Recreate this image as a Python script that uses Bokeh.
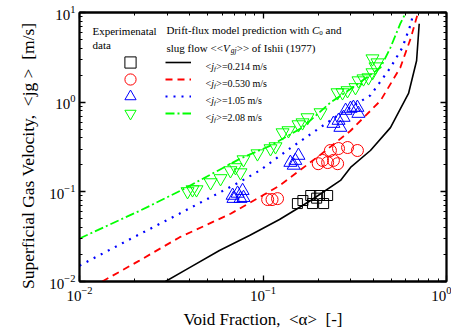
from bokeh.plotting import figure
from bokeh.models import Label, Legend, LegendItem, LogAxis, FixedTicker, CustomJSTickFormatter
from bokeh.embed import file_html
from bokeh.resources import INLINE

FONT = "Liberation Serif"

# ---------------- data ----------------
x_major = [0.01, 0.1, 1.0]
y_major = [0.01, 0.1, 1.0, 10.0]
x_minor = [m * d for d in (0.01, 0.1) for m in range(2, 10)]
y_minor = [m * d for d in (0.01, 0.1, 1.0) for m in range(2, 10)]

# experimental data
sq_x = [0.154, 0.165, 0.182, 0.186, 0.203, 0.214, 0.225, 0.196]
sq_y = [0.074, 0.080, 0.091, 0.074, 0.091, 0.074, 0.091, 0.085]

ci_x = [0.106, 0.112, 0.120, 0.200, 0.211, 0.225, 0.242, 0.255, 0.233, 0.258, 0.289, 0.327]
ci_y = [0.082, 0.082, 0.084, 0.206, 0.224, 0.212, 0.224, 0.206, 0.289, 0.304, 0.312, 0.289]

tr_x = [0.0683, 0.0727, 0.0774, 0.0690, 0.0754, 0.0783,
        0.141, 0.150, 0.156, 0.147,
        0.242, 0.258, 0.275, 0.282, 0.300, 0.311, 0.327, 0.331, 0.264]
tr_y = [0.091, 0.096, 0.103, 0.084, 0.084, 0.086,
        0.212, 0.223, 0.254, 0.197,
        0.577, 0.624, 0.674, 0.806, 0.849, 0.871, 0.871, 0.746, 0.521]

it_x = [0.0388, 0.0413, 0.0434, 0.0518, 0.0587, 0.0665, 0.0708, 0.0754, 0.0783,
        0.0933, 0.1099, 0.1170, 0.1278, 0.1377, 0.1561, 0.1642, 0.1748, 0.2058,
        0.2547, 0.2712, 0.2887, 0.3191, 0.3314, 0.3529, 0.3757, 0.3950, 0.4104,
        0.3950, 0.4207]
it_y = [0.101, 0.106, 0.106, 0.127, 0.141, 0.173, 0.187, 0.164, 0.229,
        0.267, 0.304, 0.320, 0.458, 0.483, 0.563, 0.592, 0.674, 0.766,
        1.28, 1.28, 1.35, 1.46, 1.74, 1.83, 1.88, 2.14, 2.49,
        3.06, 2.76]

# drift-flux model predictions
blk_x = [0.0294, 0.0398, 0.0579, 0.0844, 0.123, 0.182, 0.2645, 0.30, 0.385, 0.495, 0.621, 0.687, 0.71]
blk_y = [0.010, 0.0143, 0.0222, 0.0326, 0.0491, 0.080, 0.134, 0.187, 0.289, 0.52, 1.25, 2.9, 7.5]

red_x = [0.0133, 0.0212, 0.035, 0.0666, 0.123, 0.206, 0.30, 0.437, 0.56, 0.64, 0.70]
red_y = [0.010, 0.0171, 0.031, 0.057, 0.117, 0.26, 0.48, 1.04, 2.43, 5.25, 10.0]

blu_x = [0.01, 0.0187, 0.035, 0.0753, 0.096, 0.141, 0.264, 0.385, 0.495, 0.575, 0.64, 0.66]
blu_y = [0.015, 0.0294, 0.057, 0.13, 0.173, 0.307, 0.746, 1.19, 2.43, 4.06, 7.5, 10.0]

grn_x = [0.01, 0.0215, 0.0355, 0.0753, 0.110, 0.164, 0.233, 0.319, 0.437, 0.495, 0.56, 0.60]
grn_y = [0.0302, 0.062, 0.103, 0.235, 0.328, 0.521, 0.99, 1.53, 2.43, 4.06, 7.5, 10.0]

series_jf = ["0.214", "0.530", "1.05", "2.08"]

NB = "\u00a0"
x_title = "Void Fraction," + NB * 2 + "<\u03b1>" + NB * 2 + "[-]"
y_title = "Superficial Gas Velocity," + NB * 2 + "<jg" + NB + ">" + NB * 2 + "[m/s]" + NB * 4

# ---------------- figure ----------------
FL, FT, FB = 79, 12, 281   # frame edges in page pixels (for text placement)

p = figure(width=451, height=334, x_axis_type="log", y_axis_type="log",
           x_range=(0.01, 1.0), y_range=(0.01, 10.0),
           output_backend="svg", toolbar_location=None,
           min_border_left=79, min_border_right=5, min_border_top=12, min_border_bottom=53)
p.grid.visible = False
p.outline_line_color = "black"
p.outline_line_width = 1.8
p.background_fill_color = "white"
p.border_fill_color = "white"


def style_axis(ax, ticks, minor, show_labels):
    ax.ticker = FixedTicker(ticks=ticks, minor_ticks=minor)
    ax.axis_line_color = "black"
    ax.axis_line_width = 1.8
    ax.major_tick_in = 6
    ax.major_tick_out = 0
    ax.minor_tick_in = 3
    ax.minor_tick_out = 0
    ax.major_tick_line_width = 1.3
    ax.minor_tick_line_width = 1
    ax.major_tick_line_color = "black"
    ax.minor_tick_line_color = "black"
    ax.major_label_text_font = FONT
    ax.major_label_text_font_size = "15px"
    ax.major_label_text_color = "black"
    ax.axis_label_text_font = FONT
    ax.axis_label_text_font_style = "normal"
    ax.axis_label_text_color = "black"
    if not show_labels:
        ax.formatter = CustomJSTickFormatter(code="return ''")
        ax.major_label_standoff = 0
        ax.major_label_text_font_size = "0px"


style_axis(p.xaxis[0], x_major, x_minor, True)
style_axis(p.yaxis[0], y_major, y_minor, True)
p.xaxis[0].major_label_standoff = 5
p.yaxis[0].major_label_standoff = 4
p.xaxis[0].axis_label = x_title
p.xaxis[0].axis_label_text_font_size = "17px"
p.xaxis[0].axis_label_standoff = 6
p.yaxis[0].axis_label = y_title
p.yaxis[0].axis_label_text_font_size = "17.5px"
p.yaxis[0].axis_label_standoff = 8

top = LogAxis()
style_axis(top, x_major, x_minor, False)
p.add_layout(top, "above")
right = LogAxis()
style_axis(right, y_major, y_minor, False)
p.add_layout(right, "right")

# model lines
l_blk = p.line(blk_x, blk_y, line_color="black", line_width=1.6)
l_red = p.line(red_x, red_y, line_color="#ff0000", line_width=1.8, line_dash="7 5")
l_blu = p.line(blu_x, blu_y, line_color="#0000ff", line_width=2.2, line_dash="2 6")
l_grn = p.line(grn_x, grn_y, line_color="#00ff00", line_width=1.8, line_dash="9 3 2 3")

# experimental points
s_sq = p.scatter(sq_x, sq_y, marker="square", size=10, fill_color=None, line_color="black", line_width=1)
s_ci = p.scatter(ci_x, ci_y, marker="circle", size=12, fill_color=None, line_color="#ff0000", line_width=1)
s_tr = p.scatter(tr_x, tr_y, marker="triangle", size=13, fill_color=None, line_color="#0000ff", line_width=1)
s_it = p.scatter(it_x, it_y, marker="inverted_triangle", size=13, fill_color=None, line_color="#00ff00", line_width=1)

# legend: one single-row legend per entry (markers column and lines column)
ROWS = [62, 79, 96, 113]   # page y of the legend rows


def one_legend(r, cx, cy, gw, gh):
    leg = Legend(items=[LegendItem(label=" ", renderers=[r])],
                 location=(cx - gw / 2 - FL, FB - cy - gh / 2), orientation="vertical",
                 glyph_width=gw, glyph_height=gh, spacing=0, padding=0, margin=0,
                 label_width=0, label_standoff=0, label_height=0, label_text_font_size="1px",
                 border_line_color=None, background_fill_alpha=0)
    p.add_layout(leg)


for r, cy in zip((s_sq, s_ci, s_tr, s_it), ROWS):
    one_legend(r, 130, cy, 28, 28)
for r, cy in zip((l_blk, l_red, l_blu, l_grn), ROWS):
    one_legend(r, 178, cy, 26, 16)

# ---------------- rich text helper (texts inside the frame) ----------------
W = {' ': 250, ',': 250, '-': 333, '.': 250, '/': 278, '<': 564, '>': 564, '=': 564, '[': 333, ']': 333,
     '(': 333, ')': 333,
     'A': 722, 'C': 667, 'D': 722, 'E': 611, 'F': 556, 'G': 722, 'I': 333, 'S': 556, 'V': 722,
     'a': 444, 'c': 444, 'd': 500, 'e': 444, 'f': 333, 'g': 500, 'h': 500, 'i': 278, 'j': 278,
     'l': 278, 'm': 778, 'n': 500, 'o': 500, 'p': 500, 'r': 333, 's': 389, 't': 278, 'u': 500,
     'w': 722, 'x': 500, 'y': 500}


def tw(s, size):
    return sum(W.get(c, 500) for c in s) * size / 1000.0


def rich(pieces, px, py):
    """pieces: (text, size, italic, baseline shift down). px, py: page pixel start on baseline."""
    pos = 0.0
    for text, size, italic, shift in pieces:
        body = text.strip()
        lead = tw(text[:len(text) - len(text.lstrip())], size)
        if body:
            p.add_layout(Label(x=px - FL + pos + lead, y=FB - py - shift, x_units="screen", y_units="screen",
                               text=body, text_font=FONT, text_font_size=f"{size}px",
                               text_font_style="italic" if italic else "normal",
                               text_align="left", text_baseline="alphabetic", text_color="black"))
        pos += tw(text, size)


# headers
rich([("Experimenatal", 11, False, 0)], 92, 30)
rich([("data", 11, False, 0)], 92, 44)
rich([("Drift-flux model prediction with ", 11, False, 0), ("C", 11, True, 0),
      ("0", 7, False, 2.5), (" and", 11, False, 0)], 166, 29.5)
rich([("slug flow <<", 11, False, 0), ("V", 11, True, 0), ("gj", 7.5, True, 2.5),
      (">> of Ishii (1977)", 11, False, 0)], 166, 47)

# legend texts
for cy, jf in zip(ROWS, series_jf):
    rich([("<", 10, False, 0), ("j", 10, True, 0), ("f", 7, True, 2.5),
          (">=" + jf + " m/s", 10, False, 0)], 205, cy + 3.5)

open("out.html", "w").write(file_html(p, INLINE))
